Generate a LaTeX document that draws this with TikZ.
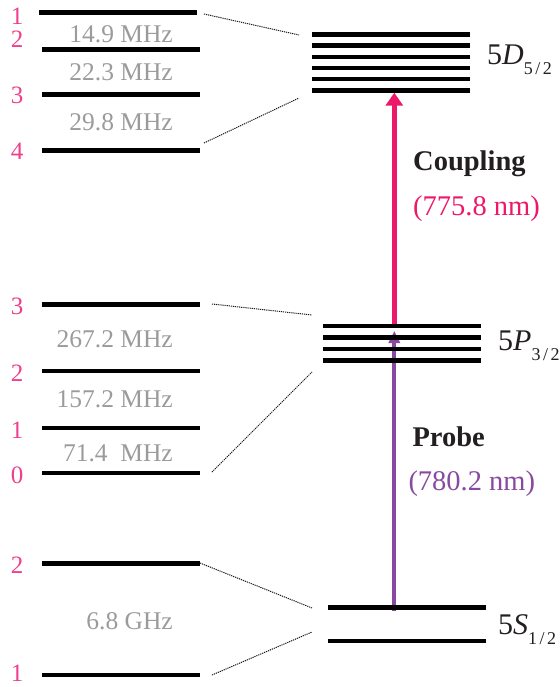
\documentclass[tikz,border=0pt]{standalone}
\usepackage{fontspec}
\setmainfont{Liberation Serif}
\usetikzlibrary{arrows.meta,backgrounds}
\definecolor{numpink}{RGB}{238,64,140}
\definecolor{cplpink}{RGB}{236,24,106}
\definecolor{prbpurple}{RGB}{136,74,160}
\definecolor{freqgray}{RGB}{155,155,155}
\definecolor{txtblack}{RGB}{35,31,32}
\newcommand{\levelterm}[3]{#1\textit{#2}\raisebox{-10pt}{\fontsize{18}{18}\selectfont #3}}
\begin{document}
\begin{tikzpicture}[x=1pt,y=-1pt,
  lvl/.style={rectangle,fill=black,draw=none,inner sep=0pt,minimum width=158pt,minimum height=4.5pt},
  num/.style={text=numpink,inner sep=0pt,font=\fontsize{25}{25}\selectfont},
  freq/.style={text=freqgray,inner sep=0pt,anchor=east,font=\fontsize{25.5}{25.5}\selectfont},
  dots/.style={draw=black!90,line width=1pt,dash pattern=on 1.2pt off 0.9pt},
  term/.style={anchor=base west,inner sep=0pt,text=txtblack,font=\fontsize{30}{30}\selectfont},
  beam/.style={anchor=base west,inner sep=0pt,font=\fontsize{28.5}{28.5}\selectfont}]
\useasboundingbox (0,0) rectangle (559,687);

% ---- left: 5D hyperfine levels
\node[lvl] (a1) at (118,12.3) {};
\node[lvl] (a2) at (121,49.3) {};
\node[lvl] (a3) at (121,94.3) {};
\node[lvl] (a4) at (121,150.3) {};
\node[num] (na1) at (17,16.5) {1};
\node[num] (na2) at (17,39) {2};
\node[num] (na3) at (17,95) {3};
\node[num] (na4) at (17,151) {4};
\node[freq] (fa1) at (173,34) {14.9 MHz};
\node[freq] (fa2) at (173,72.5) {22.3 MHz};
\node[freq] (fa3) at (173,122.5) {29.8 MHz};

% ---- left: 5P hyperfine levels
\node[lvl] (b3) at (121,304.3) {};
\node[lvl] (b2) at (121,371) {};
\node[lvl] (b1) at (121,428) {};
\node[lvl] (b0) at (121,473) {};
\node[num] (nb3) at (17,306.5) {3};
\node[num] (nb2) at (17,373.5) {2};
\node[num] (nb1) at (17,430) {1};
\node[num] (nb0) at (17,475) {0};
\node[freq] (fb1) at (173,339) {267.2 MHz};
\node[freq] (fb2) at (173,399) {157.2 MHz};
\node[freq] (fb3) at (173,453) {71.4\ \ MHz};

% ---- left: 5S hyperfine levels
\node[lvl] (c2) at (121,563.3) {};
\node[lvl] (c1) at (121,675) {};
\node[num] (nc2) at (17,565) {2};
\node[num] (nc1) at (17,673.5) {1};
\node[freq] (fc1) at (173,621) {6.8 GHz};

% ---- right: fine-structure manifolds
\foreach \i/\y in {1/34.3,2/45.5,3/56.8,4/68.0,5/79.2,6/90.4}
  \node[lvl] (d\i) at (391,\y) {};
\foreach \i/\y in {1/326,2/337.5,3/349,4/360.3}
  \node[lvl] (p\i) at (402,\y) {};
\node[lvl] (s1) at (407,607.3) {};
\node[lvl] (s2) at (407,641) {};

\node[term] (tD) at (487,64.3) {\levelterm{5}{D}{5\kern2.5pt/\kern2.5pt2}};
\node[term] (tP) at (498,350) {\levelterm{5}{P}{3\kern2.5pt/\kern2.5pt2}};
\node[term] (tS) at (498,634.3) {\levelterm{5}{S}{1\kern2.5pt/\kern2.5pt2}};

% ---- dotted correspondence lines
\coordinate (qa1) at (204,14);   \coordinate (qd1) at (299,35);
\coordinate (qa4) at (204,143);  \coordinate (qd6) at (299,98);
\coordinate (qb3) at (212,304);  \coordinate (qp1) at (312,315);
\coordinate (qb0) at (212,472);  \coordinate (qp4) at (312,372);
\coordinate (qc2) at (200,563);  \coordinate (qs1) at (312,608);
\coordinate (qc1) at (212,675);  \coordinate (qs2) at (312,632);
\draw[dots] (qa1) -- (qd1);
\draw[dots] (qa4) -- (qd6);
\draw[dots] (qb3) -- (qp1);
\draw[dots] (qb0) -- (qp4);
\draw[dots] (qc2) -- (qs1);
\draw[dots] (qc1) -- (qs2);

% ---- laser transitions (beneath the levels)
\coordinate (cplS) at (394.3,326);
\coordinate (cplE) at (394.3,92.7);
\coordinate (prbS) at (394.3,611);
\coordinate (prbE) at (394.3,331);
\begin{scope}[on background layer]
\draw[draw=cplpink,line width=5.5pt,-{Triangle[length=13pt,width=17pt]}] (cplS) -- (cplE);
\draw[draw=prbpurple,line width=4pt,-{Triangle[length=12pt,width=11pt]}] (prbS) -- (prbE);
\end{scope}

\node[beam,text=txtblack,font=\fontsize{28.5}{28.5}\selectfont\bfseries] (lc) at (413,170.7) {Coupling};
\node[beam,text=cplpink] (lcw) at (413,215) {(775.8 nm)};
\node[beam,text=txtblack,font=\fontsize{28.5}{28.5}\selectfont\bfseries] (lp) at (412.3,446.7) {Probe};
\node[beam,text=prbpurple] (lpw) at (408.3,490) {(780.2 nm)};
\end{tikzpicture}
\end{document}
